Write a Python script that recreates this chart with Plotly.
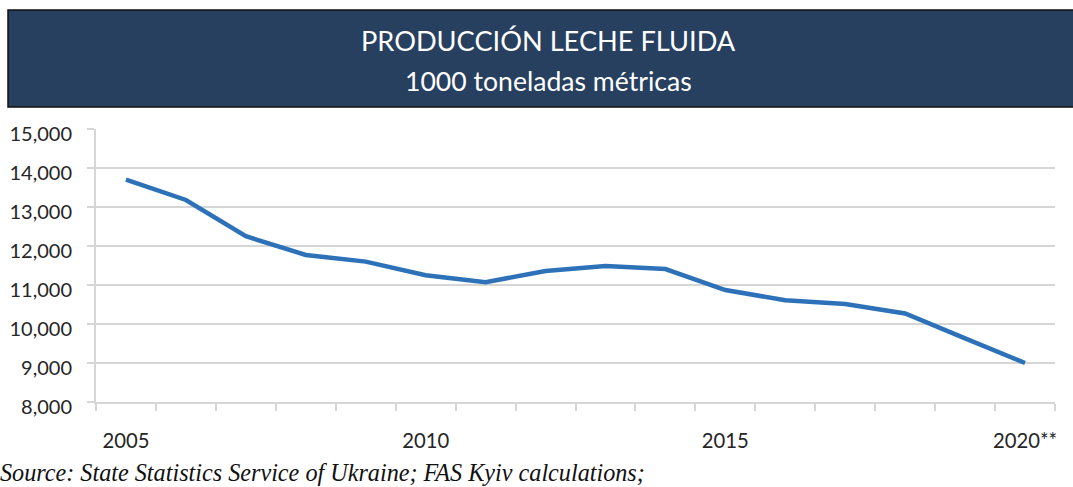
import plotly.graph_objects as go

# ---- data ----
years = [2005, 2006, 2007, 2008, 2009, 2010, 2011, 2012,
         2013, 2014, 2015, 2016, 2017, 2018, 2019, 2020]
production = [13700, 13180, 12250, 11770, 11600, 11250, 11070, 11360,
              11490, 11410, 10870, 10610, 10510, 10270, 9630, 9000]
label_years = [2005, 2010, 2015, 2020]
label_text = ["2005", "2010", "2015", "2020**"]
y_ticks = [8000, 9000, 10000, 11000, 12000, 13000, 14000, 15000]

title_text = "PRODUCCIÓN LECHE FLUIDA"
subtitle_text = "1000 toneladas métricas"
source_text = "Source: State Statistics Service of Ukraine; FAS Kyiv calculations;"

# ---- layout geometry (pixels) ----
W, H = 1073, 487
ML, MR, MT, MB = 96, 18, 129, 85
PW = W - ML - MR
PH = H - MT - MB


def px_x(px):
    return (px - ML) / PW


def px_y(py):
    return (H - MB - py) / PH


GRID = "#d6d6d6"
TXT = "#262626"
BANNER = "#27405f"

fig = go.Figure()
fig.add_trace(go.Scatter(
    x=years, y=production, mode="lines",
    line=dict(color="#2d72b8", width=4.5),
    hoverinfo="x+y", showlegend=False,
))

fig.update_layout(
    width=W, height=H,
    margin=dict(l=ML, r=MR, t=MT, b=MB, pad=0, autoexpand=False),
    paper_bgcolor="white", plot_bgcolor="white",
    font=dict(family="Lato", color=TXT, size=20),
    xaxis=dict(
        range=[years[0] - 0.5, years[-1] + 0.5],
        tickmode="array", tickvals=label_years, ticktext=label_text,
        ticks="", showgrid=False, zeroline=False, automargin=False,
        showline=True, linecolor=GRID, linewidth=2,
        ticklabelstandoff=20,
        tickfont=dict(family="Lato", size=20.3, color=TXT),
        minor=dict(tickmode="linear", tick0=years[0] - 0.5, dtick=1,
                   ticks="outside", ticklen=7, tickcolor=GRID, tickwidth=2,
                   showgrid=False),
    ),
    yaxis=dict(
        range=[y_ticks[0], y_ticks[-1]],
        tickmode="array", tickvals=y_ticks,
        tickformat=",", automargin=False,
        ticks="outside", ticklen=7, tickcolor=GRID, tickwidth=2,
        showgrid=True, gridcolor=GRID, gridwidth=2,
        zeroline=False, showline=True, linecolor=GRID, linewidth=2,
        ticklabelstandoff=11, ticklabelshift=5,
        tickfont=dict(family="Lato", size=20, color=TXT),
    ),
)

# banner
fig.add_shape(type="rect", xref="paper", yref="paper",
              x0=px_x(8), x1=px_x(1080), y0=px_y(107), y1=px_y(10),
              fillcolor=BANNER, line=dict(color="#111111", width=1.5),
              layer="above")

fig.add_annotation(xref="paper", yref="paper", x=px_x(548), y=px_y(40),
                   xanchor="center", yanchor="middle", showarrow=False,
                   text=title_text,
                   font=dict(family="Lato", size=27.2, color="white"))
fig.add_annotation(xref="paper", yref="paper", x=px_x(548), y=px_y(81),
                   xanchor="center", yanchor="middle", showarrow=False,
                   text=subtitle_text,
                   font=dict(family="Lato", size=26.6, color="white"))
fig.add_annotation(xref="paper", yref="paper", x=px_x(-2), y=px_y(472),
                   xanchor="left", yanchor="middle", showarrow=False,
                   text="<i>" + source_text + "</i>",
                   font=dict(family="Liberation Serif", size=24.2, color="#111111"))

fig.write_html("out.html", config={"displayModeBar": False},
               post_script="document.body.style.margin='0';")
